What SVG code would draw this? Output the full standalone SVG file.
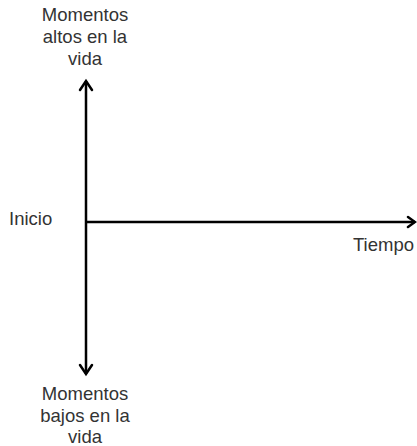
<svg xmlns="http://www.w3.org/2000/svg" width="417" height="446" viewBox="0 0 417 446">
<style>
text{font-family:"Liberation Sans",Arial,sans-serif;font-size:18.5px;fill:#333}
.ax{stroke:#000;stroke-width:2.5;fill:none}
.hd{stroke:#000;stroke-width:2.5;fill:none;stroke-linecap:round;stroke-linejoin:miter}
</style>
<rect width="417" height="446" fill="#fff"/>
<g id="connectors">
<line class="ax" x1="86" y1="81" x2="86" y2="374"/>
<polyline class="hd" points="80,90 86,81 92,90"/>
<polyline class="hd" points="80,365 86,374 92,365"/>
<line class="ax" x1="86" y1="222" x2="415" y2="222"/>
<polyline class="hd" points="408,217 415,222 408,227"/>
</g>
<g id="top-label" text-anchor="middle">
<text x="85" y="21">Momentos</text>
<text x="85" y="43">altos en la</text>
<text x="85" y="65">vida</text>
</g>
<g id="bottom-label" text-anchor="middle">
<text x="85" y="400">Momentos</text>
<text x="85" y="422">bajos en la</text>
<text x="85" y="443">vida</text>
</g>
<g id="inicio"><text x="9" y="225">Inicio</text></g>
<g id="tiempo"><text x="353" y="251">Tiempo</text></g>
</svg>
